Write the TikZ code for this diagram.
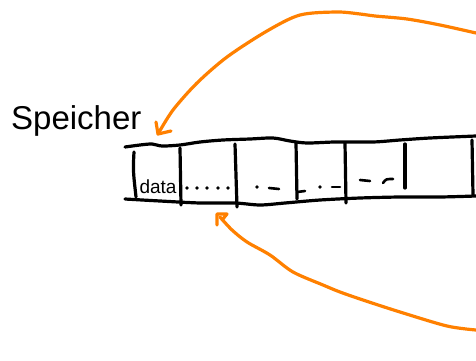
\documentclass[tikz,border=0pt]{standalone}
\usepackage{fontspec}
\setmainfont{Liberation Sans}
\definecolor{pen}{HTML}{FF8000}
\begin{document}
\begin{tikzpicture}[x=1pt,y=-1pt,
  ink/.style={line width=3.2pt,line cap=round,line join=round,black},
  thin ink/.style={line width=2.6pt,line cap=round,black},
  pointer/.style={line width=3.2pt,line cap=round,line join=round,pen},
  dotmark/.style={fill=black,circle,inner sep=0pt,minimum size=3.6pt}]
\useasboundingbox (0,0) rectangle (476,361);

% label
\node[anchor=base west,font=\fontsize{33}{35}\selectfont,inner sep=0pt] (speicher) at (11,129) {Speicher};

% memory strip: upper and lower edges
\draw[ink] plot[smooth] coordinates {(125,147) (140,145) (152,144) (162,146) (180,145) (200,142) (223,140) (250,139) (273,138) (290,141) (307,143) (335,142) (373,142) (400,140) (430,138) (476,136)};
\draw[ink] plot[smooth] coordinates {(125,199) (160,201) (200,203) (235,203) (260,205) (285,203) (320,200) (360,198) (400,197) (440,197) (476,196)};

% cell dividers
\draw[ink] (134,152) .. controls (133,170) .. (136,197);
\draw[ink] (180,148) -- (181,205);
\draw[ink] (235,144) -- (237,207);
\draw[ink] (296,143) -- (297,199);
\draw[ink] (345,143) -- (346,203);
\draw[ink] (405,144) -- (405,188);
\draw[ink] (472,140) -- (473,195);

% cell contents
\node[font=\fontsize{19}{21}\selectfont,inner sep=0pt,anchor=base] (data) at (158,193) {data};
\node[dotmark] (d1) at (187,188) {};
\node[dotmark] (d2) at (197,188) {};
\node[dotmark] (d3) at (207,188) {};
\node[dotmark] (d4) at (218,188) {};
\node[dotmark] (d5) at (228,188) {};
\node[dotmark] (d6) at (257,187) {};
\draw[thin ink] (269,188) -- (279,189);
\draw[thin ink] (297,192) -- (305,191);
\node[dotmark] (d7) at (320,187) {};
\draw[thin ink] (332,187) -- (340,187);
\draw[thin ink] (360,180) -- (370,181);
\draw[thin ink] (383,183) .. controls (386,179) .. (393,179);

% upper pointer
\coordinate (topstart) at (476,33);
\coordinate (toptip) at (158,134);
\draw[pointer] plot[smooth] coordinates {(topstart) (440,25) (407,19) (375,16) (360,14) (337,12) (300,15) (267,31) (227,57) (197,83) (173,110) (toptip)};
\draw[pointer] (156,122) -- (toptip) -- (171,131);

% lower pointer
\coordinate (botstart) at (476,330);
\coordinate (bottip) at (220,217);
\draw[pointer] plot[smooth] coordinates {(botstart) (447,326) (400,312) (363,300) (340,292) (323,285) (293,272) (270,255) (247,242) (232,230) (bottip)};
\draw[pointer] (217,225) -- (217,214) -- (227,214) -- (222,220);
\end{tikzpicture}
\end{document}
